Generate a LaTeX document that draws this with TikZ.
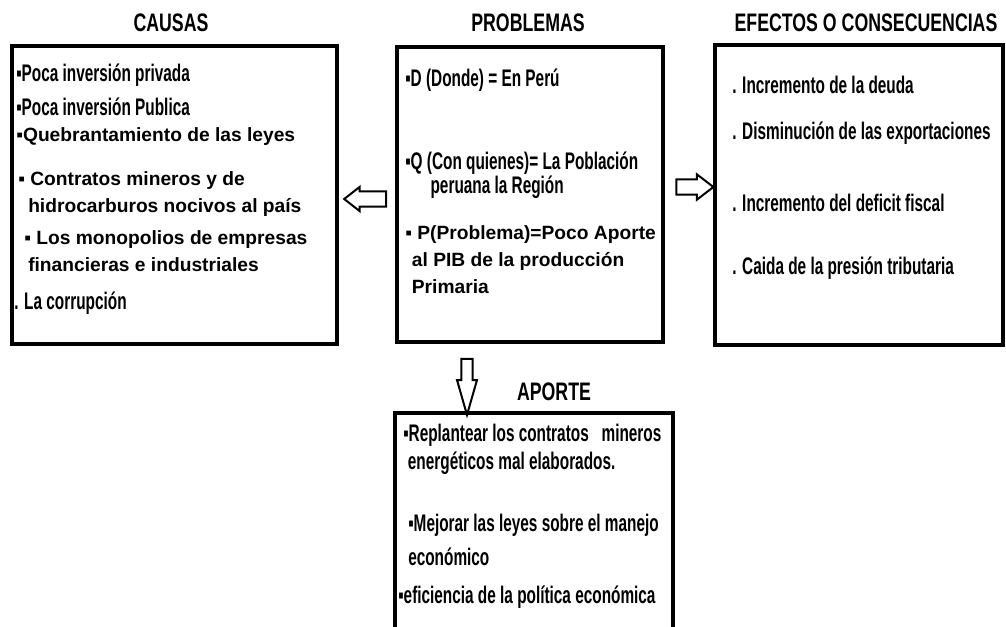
\documentclass[tikz,border=0pt]{standalone}
\usepackage{fontspec}
\setmainfont{Liberation Sans}
\newfontfamily\narrowfont[FakeStretch=0.64]{Liberation Sans}
\newfontfamily\titlefont[FakeStretch=0.7]{Liberation Sans}
\usetikzlibrary{shapes.arrows}

\tikzset{
    box/.style={draw, line width=2.6pt, inner sep=0pt},
    title/.style={inner sep=0pt, font=\titlefont\bfseries\fontsize{19}{20}\selectfont},
    narrow/.style={anchor=west, inner sep=0pt, align=left, font=\narrowfont\bfseries\fontsize{18}{18}\selectfont},
    wide/.style={anchor=west, inner sep=0pt, align=left, font=\bfseries\fontsize{14.4}{20.25}\selectfont},
    hollow/.style={single arrow, draw, line width=1.5pt, single arrow head indent=0pt, outer sep=0pt}
}

\begin{document}
\begin{tikzpicture}[x=0.75pt,y=-0.75pt]
    \useasboundingbox (0,0) rectangle (1006,626);
    % boxes
    \node [box, minimum width=243.75pt, minimum height=223.5pt] (causas) at (174.5,195) {};
    \node [box, minimum width=199.5pt, minimum height=221.25pt] (prob) at (530,194.5) {};
    \node [box, minimum width=216pt, minimum height=225pt] (efec) at (859,195) {};
    \node [box, minimum width=208.5pt, minimum height=170.25pt] (aporte) at (534,526.5) {};

    % titles
    \node [title] (tcausas) at (171,23) {CAUSAS};
    \node [title] (tprob) at (528,23) {PROBLEMAS};
    \node [title] (tefec) at (866,23) {EFECTOS O CONSECUENCIAS};
    \node [title] (taporte) at (554,392) {APORTE};

    % arrows
    \node [hollow, rotate=180, minimum height=31.5pt, inner sep=4.9pt,
        single arrow head extend=3.4pt, single arrow tip angle=76] (toCausas) at (370,199) {};
    \node [hollow, minimum height=27.75pt, inner sep=4.9pt,
        single arrow head extend=3.8pt, single arrow tip angle=75] (toEfec) at (690,187) {};
    \node [hollow, rotate=-90, minimum height=42pt, inner sep=3.5pt,
        single arrow head extend=3.2pt, single arrow tip angle=32] (toAporte) at (467,377) {};

    % causas
    \node [narrow] (c1) at (16,75) {▪Poca inversión privada};
    \node [narrow] (c2) at (16,107) {▪Poca inversión Publica};
    \node [wide] (c3) at (16,137) {▪Quebrantamiento de las leyes};
    \node [wide] (c4) at (18,194) {▪ Contratos mineros y de\\\hspace*{7.5pt}hidrocarburos  nocivos al país};
    \node [wide] (c5) at (24,251) {▪ Los monopolios de empresas\\\hspace*{3pt}financieras e industriales};
    \node [narrow] (c6) at (14,303) {. La corrupción};

    % problemas
    \node [narrow] (p1) at (405,80) {▪D (Donde) = En Perú};
    \node [narrow] (p2) at (405,175) {▪Q (Con quienes)= La Población\\\hspace*{19pt}peruana la Región};
    \node [wide] (p3) at (405,260) {▪ P(Problema)=Poco Aporte\\\hspace*{5pt}al PIB de la producción\\\hspace*{5pt}Primaria};

    % efectos
    \node [narrow] (e1) at (732,85) {. Incremento de la deuda};
    \node [narrow] (e2) at (732,133) {. Disminución de las exportaciones};
    \node [narrow] (e3) at (732,203) {. Incremento del deficit fiscal};
    \node [narrow] (e4) at (732,268) {. Caida de la presión  tributaria};

    % aporte
    \node [narrow, font=\narrowfont\bfseries\fontsize{18}{21}\selectfont] (a1) at (403,449)
        {▪Replantear los contratos \ \ mineros\\\hspace*{3.5pt}energéticos mal  elaborados.};
    \node [narrow, font=\narrowfont\bfseries\fontsize{18}{25.5}\selectfont] (a2) at (408,540)
        {▪Mejorar las leyes sobre el  manejo\\económico};
    \node [narrow] (a3) at (398,597) {▪eficiencia de la política económica};
\end{tikzpicture}
\end{document}
